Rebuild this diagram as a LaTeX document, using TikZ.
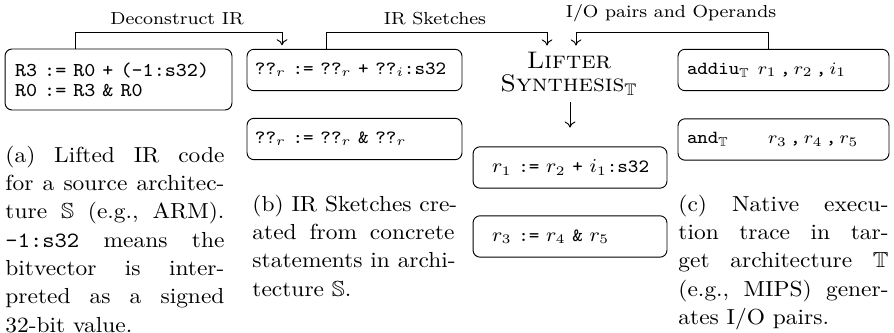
\documentclass[tikz,border=0pt]{standalone}
\usepackage{amssymb}
\usetikzlibrary{arrows.meta}
\newcommand{\gp}{\hfil\ }
\newcommand{\jl}[2]{\leavevmode\hbox to #1{#2}}
\begin{document}
\begin{tikzpicture}[x=0.427pt, y=-0.4591pt, yscale=0.93, transform shape,
  box/.style={draw, rounded corners=3pt, line width=0.4pt, inner ysep=0pt, inner xsep=0pt, align=left, minimum height=19pt},
  codea/.style={font=\fontsize{9}{9.2}\selectfont\ttfamily},
  codeb/.style={font=\fontsize{8.6}{9.2}\selectfont\ttfamily},
  codec/.style={font=\fontsize{8.6}{9.2}\selectfont\ttfamily},
  coded/.style={font=\fontsize{8.5}{9.2}\selectfont\ttfamily},
  lab/.style={font=\fontsize{8}{9}\selectfont, inner sep=0pt},
  para/.style={font=\fontsize{10}{13}\selectfont, inner sep=0pt, align=left, anchor=north west},
  conn/.style={line width=0.4pt, -{To[length=2.6pt,width=4.6pt]}},
]
\useasboundingbox (0,0) rectangle (894,333);

% boxes
\node[box, codea, text width=96.9pt, minimum height=28pt] (A) at (118.5,79.5) {\hspace*{4.27pt}R3 := R0 + (-1:s32)\\\hspace*{4.27pt}R0 := R3 \& R0};
\node[box, codeb, text width=91.8pt] (B1) at (354.5,70) {\hspace*{3.4pt}??$_r$ := ??$_r$ + ??$_i$:s32};
\node[box, codeb, text width=91.8pt] (B2) at (354.5,139) {\hspace*{3.4pt}??$_r$ := ??$_r$ \& ??$_r$};
\node[box, codec, text width=82.8pt] (C1) at (570,167.5) {\hspace*{8.1pt}$r_1$ := $r_2$ + $i_1$:s32};
\node[box, codec, text width=82.8pt] (C2) at (570,236.5) {\hspace*{8.1pt}$r_3$ := $r_4$ \& $r_5$};
\node[box, coded, text width=90.1pt] (D1) at (783.5,70) {\hspace*{3.84pt}\makebox[30.3pt][l]{addiu$_{\mathbb{T}}$}$r_1$\,,\,$r_2$\,,\,$i_1$};
\node[box, coded, text width=90.1pt] (D2) at (783.5,139.5) {\hspace*{3.84pt}\makebox[34.6pt][l]{and$_{\mathbb{T}}$}$r_3$\,,\,$r_4$\,,\,$r_5$};

% lifter
\node[font=\fontsize{11}{10.6}\selectfont, align=center, inner xsep=0pt, inner ysep=3pt] (lifter) at (569,74) {\textsc{Lifter}\\\textsc{Synthesis}$_{\mathbb{T}}$};

% labels
\node[lab] (l1) at (177,19) {Deconstruct IR};
\node[lab] (l2) at (435,19) {IR Sketches};
\node[lab] (l3) at (671,13.5) {I/O pairs and Operands};

% connectors
\draw[conn, shorten >=1.5pt] (A.north -| 75,0) -- (75,32) -- (282,32) -- (B1.north -| 282,0);
\draw[conn] (B1.north -| 326,0) -- (326,32) -- (547,32) -- (lifter.north -| 547,0);
\draw[conn] (D1.north -| 768,0) -- (768,32) -- (576,32) -- (lifter.north -| 576,0);
\draw[conn, shorten >=8pt] (lifter.south -| C1.north) -- (C1.north);

% captions
\node[para, text width=93.5pt] (capa) at (5,145.6) {%
\jl{93.5pt}{(a)\gp Lifted\gp IR\gp code}\\
\jl{93.5pt}{for\gp a\gp source\gp architec-}\\
\jl{93.5pt}{ture\gp $\mathbb{S}$\gp (e.g.,\gp ARM).}\\
\jl{93.5pt}{\texttt{-1:s32}\gp means\gp the}\\
\jl{93.5pt}{bitvector\gp is\gp inter-}\\
\jl{93.5pt}{preted\gp as\gp a\gp signed}\\
32-bit value.};
\node[para, text width=86.3pt] (capb) at (252,194.6) {%
\jl{86.3pt}{(b)\gp IR\gp Sketches\gp cre-}\\
\jl{86.3pt}{ated\gp from\gp concrete}\\
\jl{86.3pt}{statements\gp in\gp archi-}\\
tecture $\mathbb{S}$.};
\node[para, text width=89.7pt] (capc) at (678,194.6) {%
\jl{89.7pt}{(c)\gp Native\gp execu-}\\
\jl{89.7pt}{tion\gp trace\gp in\gp tar-}\\
\jl{89.7pt}{get\gp architecture\gp $\mathbb{T}$}\\
\jl{89.7pt}{(e.g.,\gp MIPS)\gp gener-}\\
ates I/O pairs.};
\end{tikzpicture}
\end{document}
